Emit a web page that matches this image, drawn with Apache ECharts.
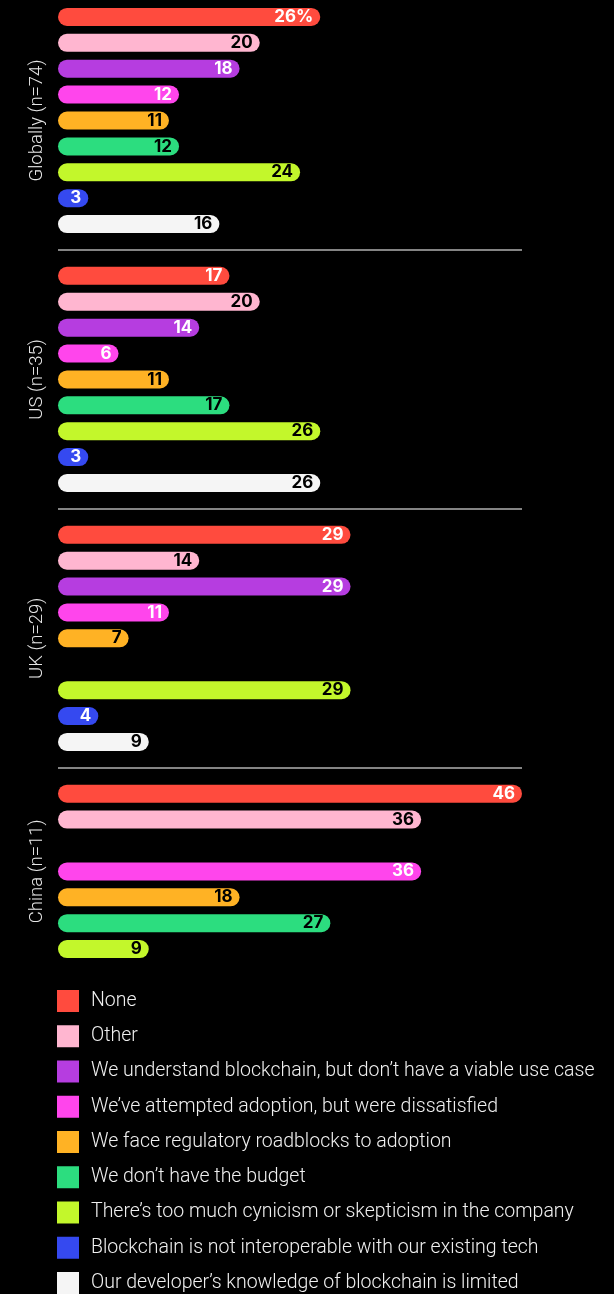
<!DOCTYPE html>
<html>
<head>
<meta charset="utf-8">
<script src="https://cdn.jsdelivr.net/npm/echarts@6/dist/echarts.min.js"></script>
<style>
  html, body { margin: 0; padding: 0; background: #000; }
  #chart { width: 614px; height: 1294px; }
</style>
</head>
<body>
<div id="chart"></div>
<script>
// Reasons for not adopting blockchain, in legend order
const reasons = [
  'None',
  'Other',
  'We understand blockchain, but don\u2019t have a viable use case',
  'We\u2019ve attempted adoption, but were dissatisfied',
  'We face regulatory roadblocks to adoption',
  'We don\u2019t have the budget',
  'There\u2019s too much cynicism or skepticism in the company',
  'Blockchain is not interoperable with our existing tech',
  'Our developer\u2019s knowledge of blockchain is limited'
];
const reasonColors = ['#ff4b3e', '#ffb6d0', '#b63de0', '#ff45ec', '#ffb224', '#2cdd7f', '#c3f72b', '#3549f0', '#f5f5f5'];
const labelColors  = ['#ffffff', '#000000', '#ffffff', '#ffffff', '#000000', '#000000', '#000000', '#ffffff', '#000000'];

// Respondent groups
const groups = ['Globally (n=74)', 'US (n=35)', 'UK (n=29)', 'China (n=11)'];

// Share of respondents (%) per reason, one array per group (null = no answer)
const globally = [26, 20, 18, 12, 11, 12, 24, 3, 16];
const us       = [17, 20, 14, 6, 11, 17, 26, 3, 26];
const uk       = [29, 14, 29, 11, 7, null, 29, 4, 9];
const china    = [46, 36, null, 36, 18, 27, 9, null, null];
const groupValues = [globally, us, uk, china];

// Build the row layout: one category per reason row, plus a spacer row between groups
const rows = [];        // category keys
const rowInfo = {};     // key -> {g, r}
const separators = [];
const groupRows = [];   // first/last key per group
groupValues.forEach((vals, g) => {
  let last = -1;
  vals.forEach((v, i) => { if (v != null) last = i; });
  const first = rows.length;
  for (let r = 0; r <= last; r++) {
    const key = g + '|' + r;
    rows.push(key);
    rowInfo[key] = { g, r };
  }
  groupRows.push([rows[first], rows[rows.length - 1]]);
  if (g < groupValues.length - 1) {
    const sep = 'sep' + g;
    rows.push(sep);
    separators.push(sep);
  }
});

const series = reasons.map((name, r) => ({
  name,
  type: 'bar',
  barWidth: 18,
  barGap: '-100%',
  itemStyle: { color: reasonColors[r], borderRadius: 9 },
  label: {
    show: true,
    position: 'insideRight',
    distance: 7,
    color: labelColors[r],
    fontFamily: 'Inter',
    fontWeight: 700,
    fontSize: 17,
    formatter: p => (rowInfo[p.name].g === 0 && r === 0) ? p.value + '%' : String(p.value)
  },
  data: rows.map(key => {
    const info = rowInfo[key];
    if (!info || info.r !== r) return '-';
    const v = groupValues[info.g][r];
    return v == null ? '-' : v;
  }),
  markLine: r === 0 ? {
    silent: true,
    symbol: 'none',
    label: { show: false },
    lineStyle: { color: '#b0b0b0', width: 1.5, type: 'solid' },
    data: separators.map(s => ({ yAxis: s }))
  } : undefined
}));

const chart = echarts.init(document.getElementById('chart'), null, { renderer: 'canvas' });
chart.setOption({
  backgroundColor: '#000',
  animation: false,
  grid: { left: 58, right: 92, top: 4, height: 958 },
  xAxis: { type: 'value', min: 0, max: 46, show: false },
  yAxis: {
    type: 'category',
    data: rows,
    inverse: true,
    axisLine: { show: false },
    axisTick: { show: false },
    axisLabel: { show: false },
    splitLine: { show: false }
  },
  legend: {
    orient: 'vertical',
    left: 57,
    top: 990,
    height: 360,
    padding: 0,
    icon: 'rect',
    itemWidth: 22,
    itemHeight: 22,
    itemGap: 13.25,
    selectedMode: false,
    textStyle: {
      color: '#f0f0f0',
      fontFamily: 'Roboto',
      fontWeight: 300,
      fontSize: 19.5,
      lineHeight: 22,
      padding: [0, 0, 0, 7]
    },
    data: reasons
  },
  series
});

// Rotated group titles centred on each group's rows
const graphics = groups.map((name, g) => {
  const y0 = chart.convertToPixel({ yAxisIndex: 0 }, groupRows[g][0]);
  const y1 = chart.convertToPixel({ yAxisIndex: 0 }, groupRows[g][1]);
  return {
    type: 'text',
    x: 37,
    y: (y0 + y1) / 2,
    rotation: Math.PI / 2,
    silent: true,
    style: {
      text: name,
      fill: '#e6e6e6',
      font: '300 18.5px Roboto',
      textAlign: 'center',
      textVerticalAlign: 'middle'
    }
  };
});
chart.setOption({ graphic: graphics });
</script>
</body>
</html>
